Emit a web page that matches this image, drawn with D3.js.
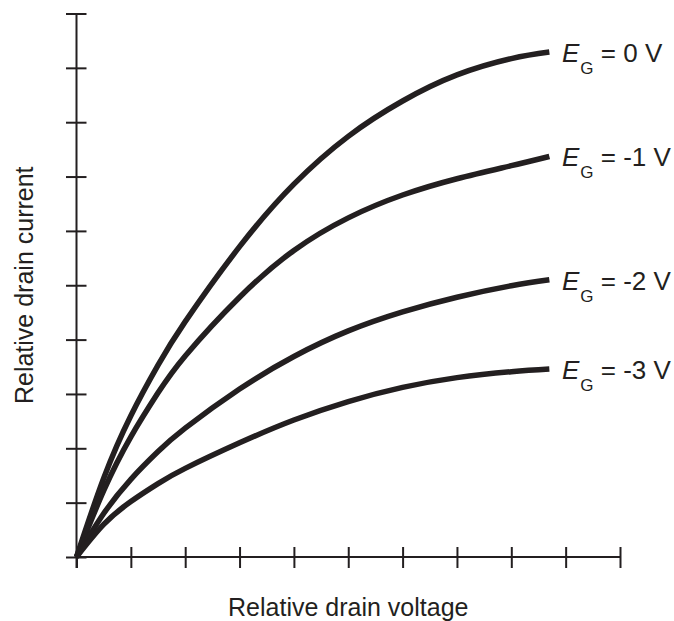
<!DOCTYPE html>
<html>
<head>
<meta charset="utf-8">
<script src="https://cdn.jsdelivr.net/npm/d3@7"></script>
<style>
  html, body { margin: 0; padding: 0; background: #fff; }
  svg { display: block; }
  text { font-family: "Liberation Sans", Arial, Helvetica, sans-serif; fill: #231f20; }
</style>
</head>
<body>
<svg id="chart" width="674" height="621"></svg>
<script>
// Data (relative units, x: drain voltage 0-10, y: drain current 0-10)
const xTicks = [0, 1, 2, 3, 4, 5, 6, 7, 8, 9, 10];
const yTicks = [0, 1, 2, 3, 4, 5, 6, 7, 8, 9, 10];

const gateLabels = ["0 V", "-1 V", "-2 V", "-3 V"];

const drainVoltage = [0, 0.5, 1, 1.5, 2, 3, 4, 5, 6, 7, 8, 8.7];
const current0V  = [0, 1.45, 2.60, 3.53, 4.33, 5.71, 6.86, 7.74, 8.39, 8.87, 9.17, 9.29];
const currentM1V = [0, 1.22, 2.21, 3.02, 3.70, 4.78, 5.64, 6.24, 6.66, 6.96, 7.20, 7.37];
const currentM2V = [0, 0.80, 1.43, 1.94, 2.37, 3.09, 3.69, 4.16, 4.51, 4.78, 4.99, 5.10];
const currentM3V = [0, 0.60, 1.02, 1.35, 1.63, 2.10, 2.52, 2.86, 3.12, 3.30, 3.41, 3.46];

const series = [current0V, currentM1V, currentM2V, currentM3V]
  .map(vals => vals.map((v, i) => [drainVoltage[i], v]));

const ink = "#231f20";
const svg = d3.select("#chart");

const x = d3.scaleLinear().domain([0, 10]).range([76.5, 620]);
const y = d3.scaleLinear().domain([0, 10]).range([557, 13.5]);

// X axis
const gx = svg.append("g").attr("transform", `translate(0,${y(0)})`)
  .call(d3.axisBottom(x).tickValues(xTicks).tickSizeOuter(0).tickFormat(""));
gx.select(".domain").attr("stroke", ink).attr("stroke-width", 2)
  .attr("d", `M${x(0)},0H${x(10)}`);
gx.selectAll(".tick line").attr("stroke", ink).attr("stroke-width", 2)
  .attr("y1", -10).attr("y2", 11);

// Y axis
const gy = svg.append("g").attr("transform", `translate(${x(0)},0)`)
  .call(d3.axisLeft(y).tickValues(yTicks).tickSizeOuter(0).tickFormat(""));
gy.select(".domain").attr("stroke", ink).attr("stroke-width", 2)
  .attr("d", `M0,${y(10)}V${y(0) + 11}`);
gy.selectAll(".tick line").attr("stroke", ink).attr("stroke-width", 2)
  .attr("x1", -10.5).attr("x2", 10);

// Curves
const line = d3.line()
  .x(d => x(d[0]))
  .y(d => y(d[1]))
  .curve(d3.curveNatural);

svg.append("g").selectAll("path.curve")
  .data(series)
  .join("path")
  .attr("class", "curve")
  .attr("d", line)
  .attr("fill", "none")
  .attr("stroke", ink)
  .attr("stroke-width", 5.5)
  .attr("stroke-linecap", "butt")
  .attr("stroke-linejoin", "round");

// Curve labels
series.forEach((s, i) => {
  const last = s[s.length - 1];
  const t = svg.append("text")
    .attr("x", 562)
    .attr("y", y(last[1]) + 10)
    .attr("font-size", 26);
  t.append("tspan").attr("font-style", "italic").text("E");
  t.append("tspan").attr("font-size", 17).attr("dx", 1).attr("dy", 12).text("G");
  t.append("tspan").attr("dy", -12).text(" = " + gateLabels[i]);
});

// Axis titles
svg.append("text")
  .attr("x", (x(0) + x(10)) / 2)
  .attr("y", 616)
  .attr("text-anchor", "middle")
  .attr("font-size", 25)
  .text("Relative drain voltage");

svg.append("text")
  .attr("transform", `translate(33,${(y(0) + y(10)) / 2}) rotate(-90)`)
  .attr("text-anchor", "middle")
  .attr("font-size", 25)
  .text("Relative drain current");
</script>
</body>
</html>
